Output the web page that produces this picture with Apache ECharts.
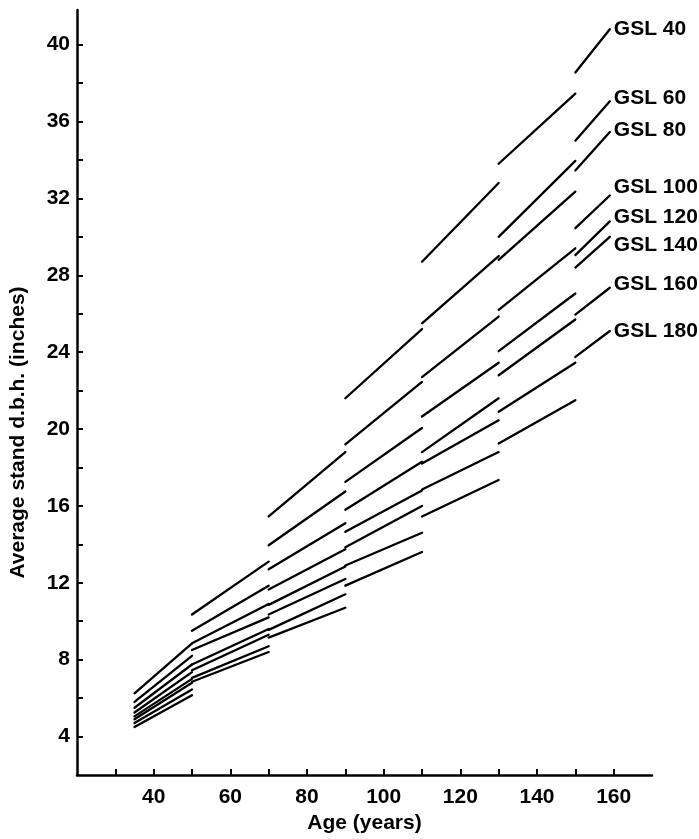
<!DOCTYPE html>
<html>
<head>
<meta charset="utf-8">
<title>Average stand d.b.h. by growing stock level</title>
<script src="https://cdn.jsdelivr.net/npm/echarts@6/dist/echarts.min.js"></script>
<style>
  html, body { margin: 0; padding: 0; background: #fff; }
  #chart { width: 699px; height: 839px; }
</style>
</head>
<body>
<div id="chart"></div>
<script>
// thinning ages: each segment runs from ages[k] to ages[k + 1]
const ages = [35, 50, 70, 90, 110, 130, 150, 159];
const gslNames = ['GSL 40', 'GSL 60', 'GSL 80', 'GSL 100', 'GSL 120', 'GSL 140', 'GSL 160', 'GSL 180'];

// d.b.h. at the start of each segment (just after thinning) and at its end
const gsl40Start = [6.25, 10.35, 15.45, 21.6, 28.7, 33.8, 38.55];
const gsl40End = [8.85, 13.1, 18.8, 25.2, 32.8, 37.45, 40.8];
const gsl60Start = [5.8, 9.5, 13.95, 19.2, 25.5, 30.0, 35.0];
const gsl60End = [8.2, 11.85, 16.75, 22.45, 29.0, 33.95, 37.05];
const gsl80Start = [5.5, 8.85, 12.7, 17.25, 22.7, 28.8, 33.45];
const gsl80End = [7.75, 10.9, 15.1, 20.05, 25.85, 32.35, 35.45];
const gsl100Start = [5.25, 8.5, 11.65, 15.8, 20.65, 26.2, 30.45];
const gsl100End = [7.35, 10.2, 13.75, 18.3, 23.45, 29.4, 32.15];
const gsl120Start = [5.05, 7.75, 10.85, 14.65, 18.8, 24.05, 29.05];
const gsl120End = [7.0, 9.6, 12.85, 16.8, 21.6, 27.05, 30.8];
const gsl140Start = [4.9, 7.45, 10.35, 13.85, 18.2, 22.8, 28.4];
const gsl140End = [6.8, 9.3, 12.2, 16.0, 20.45, 25.7, 30.0];
const gsl160Start = [4.7, 7.05, 9.55, 12.9, 16.85, 20.9, 25.95];
const gsl160End = [6.45, 8.7, 11.4, 14.6, 18.8, 23.45, 27.35];
const gsl180Start = [4.5, 6.85, 9.15, 11.85, 15.45, 19.25, 23.75];
const gsl180End = [6.15, 8.4, 10.7, 13.6, 17.35, 21.5, 25.1];

const xTicks = [30, 40, 50, 60, 70, 80, 90, 100, 110, 120, 130, 140, 150, 160];
const xLabels = [40, 60, 80, 100, 120, 140, 160];
const yTicks = [4, 6, 8, 10, 12, 14, 16, 18, 20, 22, 24, 26, 28, 30, 32, 34, 36, 38, 40];
const yLabels = [4, 8, 12, 16, 20, 24, 28, 32, 36, 40];

const starts = [gsl40Start, gsl60Start, gsl80Start, gsl100Start, gsl120Start, gsl140Start, gsl160Start, gsl180Start];
const ends = [gsl40End, gsl60End, gsl80End, gsl100End, gsl120End, gsl140End, gsl160End, gsl180End];

// vertical nudges so the end labels sit where the original put them
const labelNudge = [0, -3, -2, -8, -4, 8, -4, 0];

const font = {
    color: '#000',
    fontFamily: "'Liberation Sans', Arial, sans-serif",
    fontWeight: 'bold',
    fontSize: 21
};

const myChart = echarts.init(document.getElementById('chart'));

const series = gslNames.map((name, i) => {
    const data = [];
    for (let k = 0; k < starts[i].length; k++) {
        data.push([ages[k], starts[i][k]], [ages[k + 1], ends[i][k]]);
        // break the line at each thinning
        if (k < starts[i].length - 1) data.push([ages[k + 1], null]);
    }
    return {
        name: name,
        type: 'line',
        data: data,
        symbol: 'none',
        connectNulls: false,
        animation: false,
        lineStyle: {color: '#000', width: 2.3, cap: 'round'},
        endLabel: {
            show: true,
            formatter: name,
            distance: 4,
            offset: [0, labelNudge[i]],
            ...font
        }
    };
});

const option = {
    animation: false,
    backgroundColor: '#fff',
    grid: {left: 74, right: 47, top: 10, bottom: 60},
    xAxis: {
        type: 'value',
        min: 20,
        max: 170,
        name: 'Age (years)',
        nameLocation: 'middle',
        nameGap: 38,
        nameTextStyle: font,
        axisLine: {onZero: false, lineStyle: {color: '#000', width: 2.5}},
        axisTick: {inside: true, length: 6, customValues: xTicks, lineStyle: {color: '#000', width: 2}},
        axisLabel: {customValues: xLabels, margin: 12, ...font},
        splitLine: {show: false}
    },
    yAxis: {
        type: 'value',
        min: 2,
        max: 41.8,
        name: 'Average stand d.b.h. (inches)',
        nameLocation: 'middle',
        nameGap: 48,
        nameTextStyle: {...font, padding: [0, 80, 0, 0]},
        axisLine: {onZero: false, lineStyle: {color: '#000', width: 2.5}},
        axisTick: {inside: true, length: 6, customValues: yTicks, lineStyle: {color: '#000', width: 2}},
        axisLabel: {customValues: yLabels, margin: 7, ...font},
        splitLine: {show: false}
    },
    series: series
};

option && myChart.setOption(option);
</script>
</body>
</html>
